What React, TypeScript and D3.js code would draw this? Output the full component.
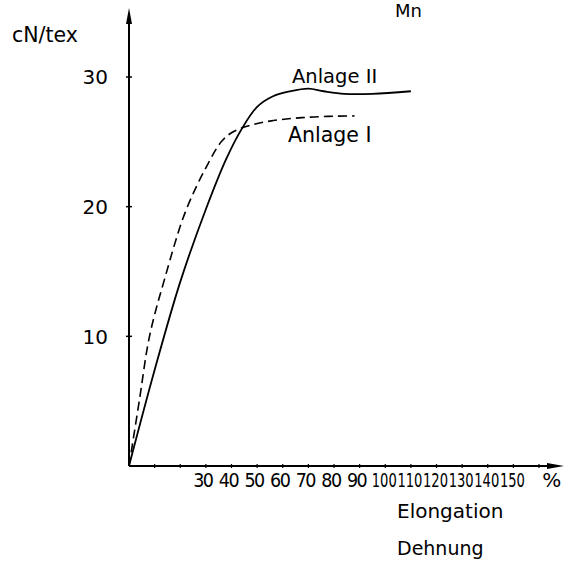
import React from "react";
import * as d3 from "d3";

// Elongation (%) vs tenacity (cN/tex)
const anlage2X = [0, 10, 20, 30, 38, 44, 50, 56, 63, 70, 76, 84, 95, 110];
const anlage2Y = [0, 7.4, 14.2, 19.8, 23.7, 26, 27.7, 28.5, 28.9, 29.1, 28.9, 28.7, 28.7, 28.9];
const anlage1X = [0, 4, 8, 14, 22, 30, 36, 40, 46, 55, 70, 88];
const anlage1Y = [0, 5, 10, 14.5, 19.6, 23, 25, 25.7, 26.2, 26.6, 26.9, 27.0];
const xTickValues = [10, 20, 30, 40, 50, 60, 70, 80, 90, 100, 110, 120, 130, 140, 150, 160];
const xTickLabels = ["30", "40", "50", "60", "70", "80", "90", "100", "110", "120", "130", "140", "150"];
const yTickLabels = ["10", "20", "30"];

const FONT = "'DejaVu Sans', sans-serif";
const COND = "'DejaVu Sans Condensed', 'Liberation Sans Narrow', 'DejaVu Sans', sans-serif";

export default function App() {
  const x = d3.scaleLinear().domain([0, 160]).range([129, 539]);
  const y = d3.scaleLinear().domain([0, 30]).range([466, 77]);
  const x0 = x(0);
  const y0 = y(0);

  const line = d3
    .line<[number, number]>()
    .x((d) => x(d[0]))
    .y((d) => y(d[1]))
    .curve(d3.curveCatmullRom.alpha(0.5));

  const s2 = anlage2X.map((v, i) => [v, anlage2Y[i]] as [number, number]);
  const s1 = anlage1X.map((v, i) => [v, anlage1Y[i]] as [number, number]);

  return (
    <svg
      width={570}
      height={566}
      style={{ position: "absolute", left: 0, top: 0, background: "#fff" }}
      fontFamily={FONT}
    >
      <rect x={0} y={0} width={570} height={566} fill="#fff" />
      {/* axes */}
      <line x1={x0} y1={y0} x2={x0} y2={14} stroke="#000" strokeWidth={2} />
      <path d={`M${x0},8 L${x0 - 3},24 L${x0 + 3},24 Z`} fill="#000" />
      <line x1={x0} y1={y0} x2={556} y2={y0} stroke="#000" strokeWidth={2} />
      <path d={`M564,${y0} L547,${y0 - 3} L547,${y0 + 3} Z`} fill="#000" />

      {/* y ticks */}
      {yTickLabels.map((t) => (
        <g key={t}>
          <line x1={x0 - 3} x2={x0 + 3} y1={y(+t)} y2={y(+t)} stroke="#000" strokeWidth={1.5} />
          <text x={108} y={y(+t)} dy="0.36em" textAnchor="end" fontSize={20}>
            {t}
          </text>
        </g>
      ))}
      <text x={12} y={42} fontSize={20.5}>cN/tex</text>

      {/* x ticks */}
      {xTickValues.map((t) => (
        <line key={t} x1={x(t)} x2={x(t)} y1={y0 - 2} y2={y0 + 2} stroke="#000" strokeWidth={1.2} />
      ))}
      {xTickLabels.map((t) =>
        t.length > 2 ? (
          <text
            key={t}
            x={x(+t) - 1 - 12.5}
            y={487}
            fontSize={19.5}
            fontFamily={COND}
            textLength={25}
            lengthAdjust="spacingAndGlyphs"
          >
            {t}
          </text>
        ) : (
          <text
            key={t}
            x={x(+t) - 3}
            y={487}
            textAnchor="middle"
            fontSize={19.5}
            fontFamily={COND}
            letterSpacing={-1.5}
          >
            {t}
          </text>
        )
      )}
      <text x={x(165)} y={487} textAnchor="middle" fontSize={20}>%</text>
      <text x={397} y={518} fontSize={20}>Elongation</text>
      <text x={397} y={555} fontSize={19}>Dehnung</text>
      <text x={395} y={17} fontSize={18}>Mn</text>

      {/* curves */}
      <path d={line(s2) || ""} fill="none" stroke="#000" strokeWidth={1.8} />
      <path d={line(s1) || ""} fill="none" stroke="#000" strokeWidth={1.6} strokeDasharray="9 5" />

      <text x={292} y={83} fontSize={19.5}>Anlage II</text>
      <text x={288} y={142} fontSize={20.5}>Anlage I</text>
    </svg>
  );
}
